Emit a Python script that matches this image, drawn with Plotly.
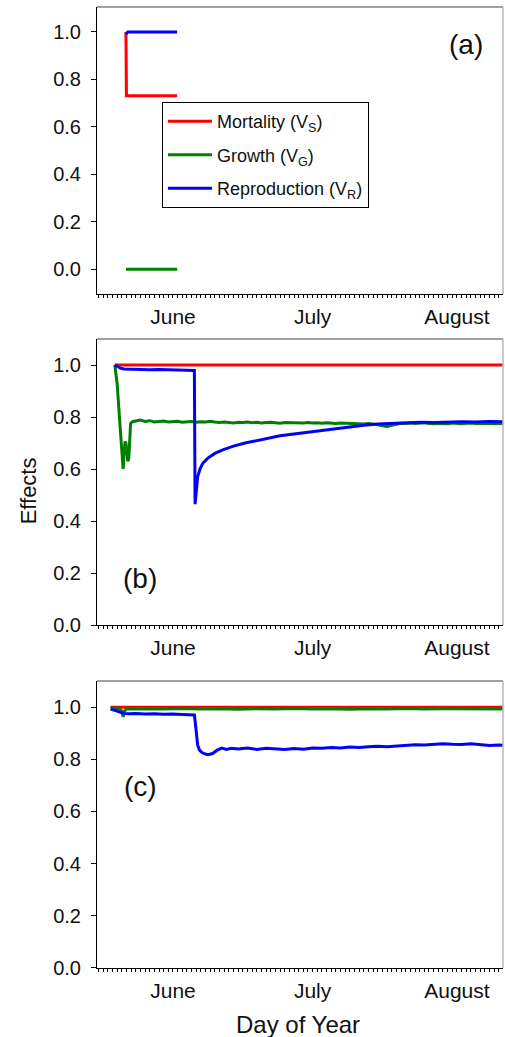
import plotly.graph_objects as go

# ---------------- data (day of year) ----------------
month_ticks = [152, 182, 213]
month_labels = ["June", "July", "August"]

# Panel (a)
a_mort_x = [141.9, 142.0, 152.9]
a_mort_y = [1.0, 0.731, 0.731]
a_grow_x = [141.9, 152.9]
a_grow_y = [0.0, 0.0]
a_repr_x = [141.9, 142.3, 152.9]
a_repr_y = [0.99, 1.0, 1.0]

# Panel (b)
b_mort_x = [139.5, 222.9]
b_mort_y = [1.0, 1.0]
b_grow_x = [139.5, 140.0, 140.5, 141.0, 141.3, 141.5, 141.7, 141.9, 142.1, 142.3, 142.5, 142.7, 142.9, 143.3,
            144, 145, 146, 147, 148, 149, 150, 151, 152, 153, 154, 155, 156, 157, 158, 159, 160,
            161, 162, 163, 164, 165, 166, 167, 168, 169, 170, 171, 172, 173, 174, 175, 176, 177, 178, 179, 180,
            181, 182, 183, 184, 185, 186, 187, 188, 189, 190, 191, 192, 193, 194, 195, 196, 197, 198, 199, 200,
            201, 202, 203, 204, 205, 206, 207, 208, 209, 210, 211, 212, 213, 214, 215, 216, 217, 218, 219, 220,
            221, 222, 222.9]
b_grow_y = [1.0, 0.93, 0.80, 0.66, 0.60, 0.66, 0.705, 0.70, 0.66, 0.63, 0.64, 0.72, 0.775, 0.782,
            0.785, 0.788, 0.783, 0.786, 0.781, 0.784, 0.785, 0.781, 0.783, 0.784, 0.780, 0.782, 0.783, 0.780, 0.782, 0.781, 0.784,
            0.781, 0.779, 0.781, 0.780, 0.777, 0.780, 0.779, 0.781, 0.778, 0.780, 0.777, 0.779, 0.780, 0.778, 0.776, 0.779, 0.778, 0.777, 0.778, 0.777,
            0.779, 0.777, 0.778, 0.776, 0.778, 0.777, 0.775, 0.777, 0.776, 0.775, 0.776, 0.774, 0.773, 0.775, 0.773, 0.770, 0.766, 0.764, 0.768, 0.773,
            0.776, 0.775, 0.777, 0.775, 0.776, 0.778, 0.775, 0.774, 0.776, 0.775, 0.774, 0.777, 0.775, 0.774, 0.776, 0.777, 0.775, 0.776, 0.775, 0.776,
            0.774, 0.776, 0.775]
b_repr_x = [139.5, 140.0, 140.7, 141.5, 143, 145, 147, 149, 151, 153, 155, 156.6, 156.75,
            157.0, 157.3, 157.8, 158.4, 159.5, 161, 162.7, 165, 167.5, 170, 172.5, 175, 178, 181, 184, 187,
            190, 193, 196, 199, 202, 205, 208, 211, 214, 217, 220, 222.9]
b_repr_y = [1.0, 0.995, 0.988, 0.985, 0.984, 0.983, 0.982, 0.983, 0.981, 0.981, 0.98, 0.979, 0.465,
            0.53, 0.57, 0.60, 0.622, 0.642, 0.660, 0.674, 0.688, 0.70, 0.71, 0.72, 0.728, 0.735, 0.742, 0.748, 0.756,
            0.763, 0.768, 0.773, 0.776, 0.778, 0.78, 0.779, 0.781, 0.782, 0.781, 0.783, 0.782]

# Panel (c)
c_mort_x = [138.6, 222.9]
c_mort_y = [1.0, 1.0]
c_grow_x = [138.6, 139.5, 140.5, 141.0, 141.3, 141.6, 142.0, 146, 150, 154, 158, 162, 166, 170, 174, 178,
            182, 186, 190, 194, 198, 202, 206, 210, 214, 218, 222.9]
c_grow_y = [0.998, 0.996, 0.994, 0.985, 0.963, 0.985, 0.993, 0.994, 0.993, 0.995, 0.993, 0.994, 0.992, 0.994,
            0.993, 0.995, 0.993, 0.994, 0.992, 0.994, 0.993, 0.995, 0.993, 0.994, 0.993, 0.994, 0.993]
c_repr_x = [138.6, 139.3, 140.0, 140.7, 141.5, 142.5, 144, 146, 148, 150, 152, 154, 156, 156.6, 156.8, 157.0,
            157.3, 157.7, 158.3, 159.0, 159.5, 160.5, 161.5, 162.5, 163.5, 164.5, 166, 168, 170, 172, 174, 176,
            178, 180, 182, 184, 186, 188, 190, 192, 194, 196, 198, 200, 202, 204, 206, 208, 210, 212, 214, 216,
            218, 220, 222, 222.9]
c_repr_y = [0.993, 0.99, 0.985, 0.98, 0.976, 0.975, 0.976, 0.974, 0.975, 0.973, 0.974, 0.972, 0.971, 0.97, 0.94, 0.89,
            0.855, 0.835, 0.825, 0.82, 0.818, 0.822, 0.835, 0.843, 0.838, 0.842, 0.84, 0.843, 0.838, 0.842, 0.84, 0.838,
            0.841, 0.839, 0.843, 0.842, 0.845, 0.843, 0.847, 0.845, 0.848, 0.85, 0.848, 0.851, 0.853, 0.856, 0.855, 0.858,
            0.86, 0.858, 0.857, 0.86, 0.856, 0.853, 0.855, 0.854]

names = ["Mortality (V<sub>S</sub>)", "Growth (V<sub>G</sub>)", "Reproduction (V<sub>R</sub>)"]
colors = ["#ff0000", "#008000", "#0000ff"]

FONT = "Liberation Sans, Arial, Helvetica, sans-serif"
fig = go.Figure()

panels = [
    ("x", "y", [(a_mort_x, a_mort_y), (a_grow_x, a_grow_y), (a_repr_x, a_repr_y)], True),
    ("x2", "y2", [(b_mort_x, b_mort_y), (b_grow_x, b_grow_y), (b_repr_x, b_repr_y)], False),
    ("x3", "y3", [(c_mort_x, c_mort_y), (c_grow_x, c_grow_y), (c_repr_x, c_repr_y)], False),
]
for xa, ya, series, show in panels:
    for i, ((xs, ys), nm, col) in enumerate(zip(series, names, colors)):
        fig.add_trace(go.Scatter(x=xs, y=ys, mode="lines", name=nm, showlegend=show, legendgroup=f"g{i}",
                                 line=dict(color=col, width=3), xaxis=xa, yaxis=ya))

xcommon = dict(range=[135.68, 222.9], tickmode="array", tickvals=month_ticks, ticktext=month_labels,
               ticks="outside", ticklen=3, tickcolor="black", showline=True, linecolor="black", linewidth=1,
               showgrid=False, zeroline=False, ticklabelstandoff=1,
               tickfont=dict(family=FONT, size=21, color="#111"),
               minor=dict(tickmode="linear", tick0=152, dtick=1, ticks="outside", ticklen=3, tickcolor="black",
                          showgrid=False))
ycommon = dict(tickmode="array", tickvals=[0, 0.2, 0.4, 0.6, 0.8, 1.0],
               ticktext=["0.0", "0.2", "0.4", "0.6", "0.8", "1.0"],
               ticks="outside", ticklen=5, tickcolor="black", showline=True, linecolor="black", linewidth=1,
               showgrid=False, zeroline=False, ticklabelstandoff=6,
               tickfont=dict(family=FONT, size=20, color="#111"))

fig.update_layout(
    xaxis=dict(xcommon, domain=[0, 1], anchor="y"),
    xaxis2=dict(xcommon, domain=[0, 1], anchor="y2"),
    xaxis3=dict(xcommon, domain=[0, 1], anchor="y3"),
    yaxis=dict(ycommon, domain=[0.7013, 1.0], range=[-0.105, 1.105], anchor="x"),
    yaxis2=dict(ycommon, domain=[0.3569, 0.6545], range=[0, 1.1], anchor="x2"),
    yaxis3=dict(ycommon, domain=[0.0, 0.2986], range=[0, 1.1], anchor="x3"),
    width=505, height=1037,
    margin=dict(l=97, r=2, t=7, b=69),
    paper_bgcolor="white", plot_bgcolor="white",
    legend=dict(x=0.160, y=0.901, xanchor="left", yanchor="top", bordercolor="black", borderwidth=1,
                bgcolor="white", font=dict(family=FONT, size=18, color="#111"),
                traceorder="grouped", tracegroupgap=7, itemwidth=44,
                entrywidth=214, entrywidthmode="pixels"),
    showlegend=True,
)

# top and right frame lines (grey)
for xa, ya in [("x", "y"), ("x2", "y2"), ("x3", "y3")]:
    fig.add_shape(type="line", xref=f"{xa} domain", yref=f"{ya} domain", x0=0, x1=1, y0=1, y1=1,
                  line=dict(color="#808080", width=1.5))
    fig.add_shape(type="line", xref=f"{xa} domain", yref=f"{ya} domain", x0=1, x1=1, y0=0, y1=1,
                  line=dict(color="#b8b8b8", width=1.5))

# panel labels
for xa, ya, txt, px, py in [("x", "y", "(a)", 0.909, 0.868), ("x2", "y2", "(b)", 0.106, 0.164),
                            ("x3", "y3", "(c)", 0.106, 0.634)]:
    fig.add_annotation(xref=f"{xa} domain", yref=f"{ya} domain", x=px, y=py, text=txt, showarrow=False,
                       xanchor="center", yanchor="middle", font=dict(family=FONT, size=28, color="#111"))

fig.add_annotation(xref="paper", yref="paper", x=-0.17, y=0.497, text="Effects", textangle=-90,
                   showarrow=False, xanchor="center", yanchor="middle",
                   font=dict(family=FONT, size=22, color="#111"))
fig.add_annotation(xref="paper", yref="paper", x=0.495, y=-0.0583, text="Day of Year",
                   showarrow=False, xanchor="center", yanchor="middle",
                   font=dict(family=FONT, size=24, color="#111"))

fig.write_html("out.html")
